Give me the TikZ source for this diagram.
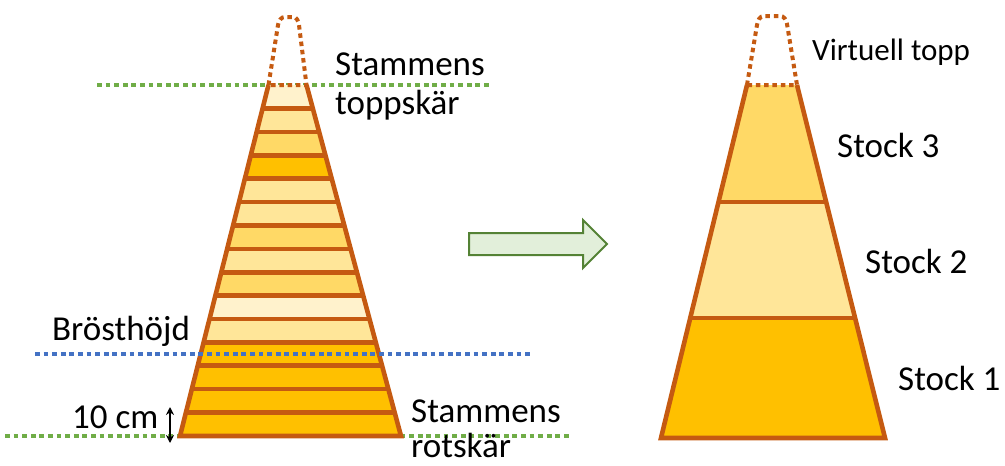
\documentclass[tikz,border=0pt]{standalone}
\usepackage{fontspec}
\setmainfont{Carlito}
\usetikzlibrary{calc,arrows.meta}
\definecolor{bark}{HTML}{C55A11}
\definecolor{pale}{HTML}{FFF2CC}
\definecolor{light}{HTML}{FFE699}
\definecolor{mid}{HTML}{FFD966}
\definecolor{deep}{HTML}{FFC000}
\definecolor{cutgreen}{HTML}{70AD47}
\definecolor{bhblue}{HTML}{4472C4}
\definecolor{arrowfill}{HTML}{E2EFDA}
\definecolor{arrowedge}{HTML}{548235}
\begin{document}
\begin{tikzpicture}[x=1pt,y=-1pt,
  barkline/.style={draw=bark,line width=4.6pt},
  capline/.style={draw=bark,line width=4pt,dash pattern=on 4.5pt off 3.8pt},
  cutline/.style={draw=cutgreen,line width=4.2pt,dash pattern=on 4.8pt off 3.8pt},
  bhline/.style={draw=bhblue,line width=4.2pt,dash pattern=on 4.8pt off 3.8pt},
  lbl/.style={anchor=base west,inner sep=0pt,font=\fontsize{35}{42}\selectfont},
  smalllbl/.style={anchor=base west,inner sep=0pt,font=\fontsize{31}{37}\selectfont}]
\useasboundingbox (0,0) rectangle (1005,466);

% felling cut lines (behind the stem)
\coordinate (topcutA) at (97,85);
\coordinate (topcutB) at (492,85);
\coordinate (rootcutA) at (5,436);
\coordinate (rootcutB) at (572,436);
\draw[cutline] (topcutA) -- (topcutB);
\draw[cutline] (rootcutA) -- (rootcutB);

% left stem, split into 15 sections of 10 cm
\coordinate (LTL) at (268.5,85);
\coordinate (LTR) at (306.5,85);
\coordinate (LBL) at (180,436);
\coordinate (LBR) at (401,436);
\foreach \c [count=\i from 0] in {pale,light,mid,deep,light,light,mid,light,mid,pale,light,deep,deep,deep,deep} {
  \pgfmathsetmacro\ta{\i/15}
  \pgfmathsetmacro\tb{(\i+1)/15}
  \fill[\c] ($(LTL)!\ta!(LBL)$) -- ($(LTR)!\ta!(LBR)$) -- ($(LTR)!\tb!(LBR)$) -- ($(LTL)!\tb!(LBL)$) -- cycle;
}
\foreach \i in {1,...,14} {
  \pgfmathsetmacro\t{\i/15}
  \draw[barkline] ($(LTL)!\t!(LBL)$) -- ($(LTR)!\t!(LBR)$);
}
\draw[barkline] (LTL) -- (LBL) -- (LBR) -- (LTR);
\draw[capline] (LTL) -- (278,25) to[out=80,in=180] (285,17) -- (293,17) to[out=0,in=100] (299,25) -- (LTR) -- cycle;

% breast height
\coordinate (bhA) at (35,354);
\coordinate (bhB) at (530,354);
\draw[bhline] (bhA) -- (bhB);

% section height marker
\coordinate (tenA) at (170,407);
\coordinate (tenB) at (170,443);
\draw[line width=1.8pt,{Stealth[length=8pt,width=8pt]}-{Stealth[length=8pt,width=8pt]}] (tenA) -- (tenB);

% labels, left stem
\node[lbl] (topcut1) at (335,75) {Stammens};
\node[lbl] (topcut2) at (335,114) {toppskär};
\node[lbl] (bh) at (52,340) {Brösthöjd};
\node[lbl] (ten) at (72,428) {10 cm};
\node[lbl] (rootcut1) at (411,422) {Stammens};
\node[lbl] (rootcut2) at (411,457) {rotskär};

% block arrow
\draw[draw=arrowedge,fill=arrowfill,line width=2pt,line join=miter]
  (469,233) coordinate (arrA) -- (583,233) -- (583,220) -- (607,244) coordinate (arrB)
  -- (583,268) -- (583,255) -- (469,255) -- cycle;

% right stem, bucked into three logs
\coordinate (RTL) at (747,85);
\coordinate (RTR) at (797,85);
\coordinate (RBL) at (661,438);
\coordinate (RBR) at (885,438);
\def\tone{0.3314}
\def\ttwo{0.66}
\fill[mid] (RTL) -- (RTR) -- ($(RTR)!\tone!(RBR)$) -- ($(RTL)!\tone!(RBL)$) -- cycle;
\fill[light] ($(RTL)!\tone!(RBL)$) -- ($(RTR)!\tone!(RBR)$) -- ($(RTR)!\ttwo!(RBR)$) -- ($(RTL)!\ttwo!(RBL)$) -- cycle;
\fill[deep] ($(RTL)!\ttwo!(RBL)$) -- ($(RTR)!\ttwo!(RBR)$) -- (RBR) -- (RBL) -- cycle;
\draw[barkline] ($(RTL)!\tone!(RBL)$) -- ($(RTR)!\tone!(RBR)$);
\draw[barkline] ($(RTL)!\ttwo!(RBL)$) -- ($(RTR)!\ttwo!(RBR)$);
\draw[barkline] (RTL) -- (RBL) -- (RBR) -- (RTR);
\draw[capline] (RTL) -- (757,25) to[out=80,in=180] (764,16) -- (780,16) to[out=0,in=100] (787,24) -- (RTR) -- cycle;

% labels, right stem
\node[smalllbl] (virt) at (812,60) {Virtuell topp};
\node[lbl] (log3) at (837,157) {Stock 3};
\node[lbl] (log2) at (865,273) {Stock 2};
\node[lbl] (log1) at (898,390) {Stock 1};
\end{tikzpicture}
\end{document}
